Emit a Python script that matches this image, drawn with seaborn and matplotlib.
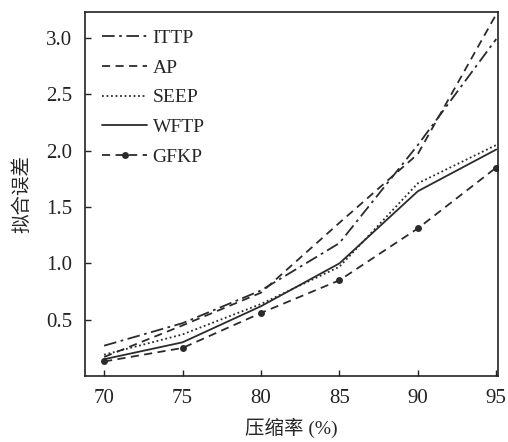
import matplotlib
matplotlib.use("Agg")
import matplotlib.pyplot as plt
import seaborn as sns
import pandas as pd

# Daten
rates = [70, 75, 80, 85, 90, 95]
ittp = [0.27, 0.47, 0.76, 1.18, 2.05, 2.99]
ap = [0.17, 0.45, 0.74, 1.36, 1.97, 3.21]
seep = [0.19, 0.37, 0.64, 0.97, 1.71, 2.05]
wftp = [0.15, 0.30, 0.62, 1.00, 1.64, 2.01]
gfkp = [0.13, 0.25, 0.56, 0.85, 1.31, 1.85]

sns.set_style("ticks")
plt.rcParams['font.family'] = ['Liberation Serif', 'Noto Sans CJK SC']
plt.rcParams['font.size'] = 14

fig = plt.figure(figsize=(5.08, 4.42), dpi=100)
ax = fig.add_axes([0.167, 0.149, 0.813, 0.824])

col = '#2b2b2b'
series = [
    ('ITTP', ittp, dict(dashes=(7, 2.5, 1.5, 2.5)), None),
    ('AP', ap, dict(dashes=(4.5, 3)), None),
    ('SEEP', seep, dict(dashes=(1, 1.5)), None),
    ('WFTP', wftp, dict(linestyle='-'), None),
    ('GFKP', gfkp, dict(dashes=(4.5, 3)), 'o'),
]

for name, vals, style, mk in series:
    df = pd.DataFrame({'rate': rates, 'err': vals})
    sns.lineplot(data=df, x='rate', y='err', ax=ax, color=col, lw=1.3,
                 marker=mk, markersize=5, markeredgewidth=0, label=name, **style)

ax.set_xlim(68.77, 95.1)
ax.set_ylim(0, 3.23)
ax.set_xticks(rates)
ax.set_yticks([0.5, 1.0, 1.5, 2.0, 2.5, 3.0])
ax.set_yticklabels(['0.5', '1.0', '1.5', '2.0', '2.5', '3.0'])
ax.tick_params(direction='in', length=4, width=1, colors='#222222', labelsize=15)
ax.tick_params(axis='y', pad=9)
ax.tick_params(axis='x', pad=9)
for s in ax.spines.values():
    s.set_visible(True)
    s.set_color('#222222')
    s.set_linewidth(1.2)

ax.set_xlabel('压缩率 (%)', fontsize=14, labelpad=7)
ax.set_ylabel('拟合误差', fontsize=14, labelpad=11)

ax.legend(loc='upper left', frameon=False, fontsize=14, handlelength=2.3,
          labelspacing=0.62, handletextpad=0.28, borderaxespad=0.5)

fig.savefig('out.png', dpi=100)
